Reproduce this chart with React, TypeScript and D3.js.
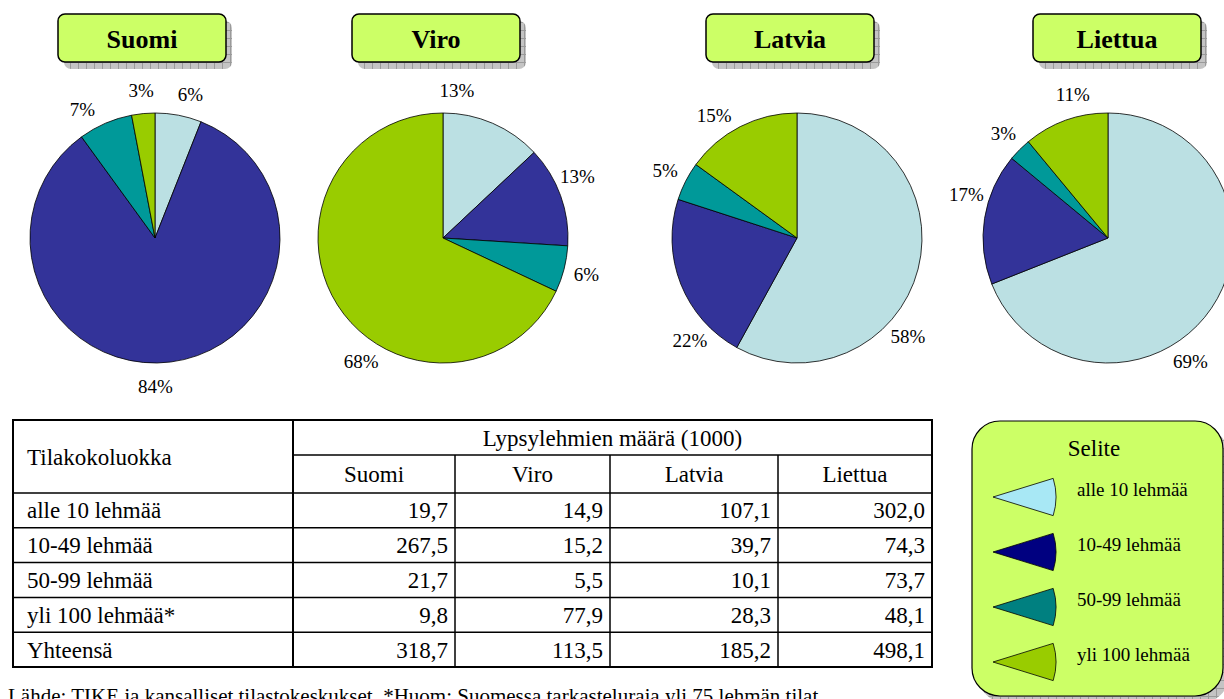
import React from "react";
import * as d3 from "d3";

// size classes (legend / pie order)
const categories = ["alle 10 lehmää", "10-49 lehmää", "50-99 lehmää", "yli 100 lehmää"];
const countries = ["Suomi", "Viro", "Latvia", "Liettua"];

// pie shares, % (as printed on the pies)
const suomiShare = [6, 84, 7, 3];
const viroShare = [13, 13, 6, 68];
const latviaShare = [58, 22, 5, 15];
const liettuaShare = [69, 17, 3, 11];
const shares = [suomiShare, viroShare, latviaShare, liettuaShare];

// table: Lypsylehmien määrä (1000)
const rowLabels = ["alle 10 lehmää", "10-49 lehmää", "50-99 lehmää", "yli 100 lehmää*", "Yhteensä"];
const suomiCows = [19.7, 267.5, 21.7, 9.8, 318.7];
const viroCows = [14.9, 15.2, 5.5, 77.9, 113.5];
const latviaCows = [107.1, 39.7, 10.1, 28.3, 185.2];
const liettuaCows = [302.0, 74.3, 73.7, 48.1, 498.1];
const cows = [suomiCows, viroCows, latviaCows, liettuaCows];

const sourceNote =
  "Lähde: TIKE ja kansalliset tilastokeskukset. *Huom: Suomessa tarkasteluraja yli 75 lehmän tilat";

const W = 1224;
const H = 699;
const SERIF = "'Liberation Serif', 'Times New Roman', serif";

const pieColors = ["#bbe0e3", "#333399", "#009999", "#99cc00"];
const legendColors = ["#a8e8f5", "#000080", "#008080", "#99cc00"];
const boxFill = "#ccff66";

const pieCx = [155, 443, 797, 1108];
const titleCx = [142, 436, 790, 1117];
const pieCy = 238;
const R = 125;
const labelR = 148;
// Excel's "best fit" nudges of the percent labels, degrees
const labelShift = [
  [3, 7, -6, 0],
  [-18, -5, 0, -24],
  [27, -22, 0, -7],
  [22, 8, 0, 6],
];

const fmt = d3.formatLocale({ decimal: ",", thousands: " ", grouping: [3], currency: ["", "€"] }).format(".1f");

const pie = d3.pie<number>().sort(null).value((d) => d);
const arc = d3.arc<d3.PieArcDatum<number>>().innerRadius(0).outerRadius(R);

// table geometry
const tLeft = 13;
const tRight = 932;
const colX = [tLeft, 293, 455, 610, 778, tRight];
const tTop = 420;
const subY = 455;
const headY = 493;
const rowY = d3.scaleBand<number>().domain(d3.range(rowLabels.length)).range([headY, 667]);

const legendWedge = d3
  .arc<any>()
  .innerRadius(0)
  .outerRadius(63)
  .startAngle(Math.PI / 2 - 0.3)
  .endAngle(Math.PI / 2 + 0.3);
const legendY = d3.scalePoint<number>().domain(d3.range(4)).range([497, 662]);

export default function App() {
  return (
    <svg width={W} height={H} style={{ position: "absolute", left: 0, top: 0 }} fontFamily={SERIF}>
      <defs>
        <pattern id="shadow" width="8" height="8" patternUnits="userSpaceOnUse">
          <rect width="8" height="8" fill="#c4c4c4" />
          <path d="M0 0.5H8M0.5 0V8" stroke="#9a9a9a" strokeWidth="1" />
        </pattern>
      </defs>
      <rect width={W} height={H} fill="#fff" />

      {/* pies */}
      {countries.map((c, i) => {
        const arcs = pie(shares[i]);
        return (
          <g key={c}>
            <g transform={`translate(${titleCx[i]},14)`}>
              <rect x={-84 + 6} y={7} width={168} height={48} rx={7} fill="url(#shadow)" />
              <rect x={-84} y={0} width={168} height={48} rx={7} fill={boxFill} stroke="#000" strokeWidth={1.5} />
              <text y={34} textAnchor="middle" fontWeight="bold" fontSize={26}>
                {c}
              </text>
            </g>
            <g transform={`translate(${pieCx[i]},${pieCy})`}>
              {arcs.map((a, j) => (
                <path key={j} d={arc(a) ?? ""} fill={pieColors[j]} stroke="#000" strokeWidth={0.8} />
              ))}
              {arcs.map((a, j) => {
                const ang = (a.startAngle + a.endAngle) / 2 + (labelShift[i][j] * Math.PI) / 180;
                const x = labelR * Math.sin(ang);
                const y = -labelR * Math.cos(ang);
                return (
                  <text key={j} x={x} y={y} dy="0.35em" textAnchor="middle" fontSize={19}>
                    {a.data}%
                  </text>
                );
              })}
            </g>
          </g>
        );
      })}

      {/* table */}
      <g fontSize={23}>
        <rect x={tLeft} y={tTop} width={tRight - tLeft} height={667 - tTop} fill="none" stroke="#000" strokeWidth={2} />
        <line x1={colX[1]} x2={colX[1]} y1={tTop} y2={667} stroke="#000" strokeWidth={2} />
        <line x1={colX[1]} x2={tRight} y1={subY} y2={subY} stroke="#000" strokeWidth={1.5} />
        {[2, 3, 4].map((k) => (
          <line key={k} x1={colX[k]} x2={colX[k]} y1={subY} y2={667} stroke="#000" strokeWidth={1.5} />
        ))}
        {rowLabels.map((_, r) => (
          <line key={r} x1={tLeft} x2={tRight} y1={rowY(r)!} y2={rowY(r)!} stroke="#000" strokeWidth={1.5} />
        ))}
        <text x={27} y={(tTop + headY) / 2} dy="0.35em">
          Tilakokoluokka
        </text>
        <text x={(colX[1] + tRight) / 2} y={(tTop + subY) / 2} dy="0.35em" textAnchor="middle">
          Lypsylehmien määrä (1000)
        </text>
        {countries.map((c, i) => (
          <text key={c} x={(colX[i + 1] + colX[i + 2]) / 2} y={(subY + headY) / 2} dy="0.35em" textAnchor="middle">
            {c}
          </text>
        ))}
        {rowLabels.map((lab, r) => {
          const y = rowY(r)! + rowY.bandwidth() / 2;
          return (
            <g key={lab}>
              <text x={27} y={y} dy="0.35em">
                {lab}
              </text>
              {cows.map((vals, i) => (
                <text key={i} x={colX[i + 2] - 7} y={y} dy="0.35em" textAnchor="end">
                  {fmt(vals[r])}
                </text>
              ))}
            </g>
          );
        })}
      </g>

      {/* legend */}
      <g>
        <rect x={978} y={428} width={251} height={275} rx={28} fill="url(#shadow)" />
        <rect x={972} y={421} width={251} height={275} rx={28} fill={boxFill} stroke="#000" strokeWidth={1.2} />
        <text x={1094} y={448} dy="0.35em" textAnchor="middle" fontSize={23}>
          Selite
        </text>
        {categories.map((c, j) => (
          <g key={c} transform={`translate(993,${legendY(j)})`}>
            <path d={legendWedge({}) ?? ""} fill={legendColors[j]} stroke="#000" strokeWidth={0.8} />
            <text x={84} y={-8} dy="0.35em" fontSize={19}>
              {c}
            </text>
          </g>
        ))}
      </g>

      <text x={8} y={703} fontSize={21}>
        {sourceNote}
      </text>
    </svg>
  );
}
